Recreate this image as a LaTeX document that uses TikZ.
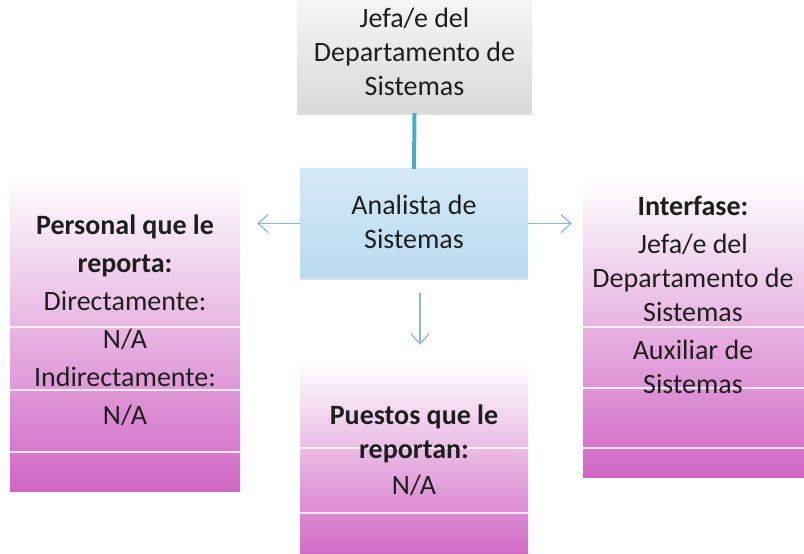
\documentclass[tikz,border=0pt]{standalone}
\usepackage{fontspec}
\setmainfont{Carlito}
\usepackage{xcolor}
\definecolor{GrayTop}{HTML}{F6F6F6}
\definecolor{GrayBot}{HTML}{D9D9D9}
\definecolor{BlueTop}{HTML}{D4E9F7}
\definecolor{BlueBot}{HTML}{BADAF1}
\definecolor{Teal}{HTML}{4BACC6}
\definecolor{ArrBlue}{HTML}{8EB4E3}
\definecolor{PinkMid}{HTML}{E6A0DC}
\definecolor{PinkDeep}{HTML}{D066C4}
\definecolor{TextGray}{HTML}{1E1E1E}
\usepackage{tikz}
\usetikzlibrary{arrows.meta, positioning, shadows}
\tikzset{
  box/.style={
    rectangle, minimum width=#1, inner sep=0pt,
    drop shadow={shadow xshift=0pt, shadow yshift=-2pt, opacity=0.25}
  },
  box/.default=228pt,
  column/.style={
    rectangle, minimum width=#1, inner sep=0pt,
    top color=white, middle color=PinkMid, bottom color=PinkDeep
  },
  column/.default=230pt,
  txt/.style={align=center, inner sep=0pt, text=TextGray,
    font=\fontsize{28}{34}\selectfont},
  sep/.style={draw=white, line width=1.2pt, opacity=0.8},
  arr/.style={-{Straight Barb[length=10pt, width=18pt]}, line width=1.2pt, color=ArrBlue},
  link/.style={line width=4pt, color=Teal},
}

\begin{document}
\begin{tikzpicture}[x=1pt, y=1pt]
\useasboundingbox (0,0) rectangle (804,554);

% Top position
\node[box=235pt, minimum height=117pt, top color=GrayTop, bottom color=GrayBot] at (414.5,499.5) (jefe) {};
\node[txt] at (414.5,502) (jefeTxt) {Jefa/e del\\Departamento de\\Sistemas};

% Position described
\node[box=228pt, minimum height=109pt, top color=BlueTop, bottom color=BlueBot] at (414,330.5) (analista) {};
\node[txt] at (414,332.5) (analistaTxt) {Analista de\\Sistemas};

% Columns
\node[column=230pt, minimum height=317pt] at (125,220.5) (personal) {};
\node[column=227pt, minimum height=300pt] at (696.5,226) (interfase) {};
\node[column=228pt, minimum height=200pt] at (414,94) (puestos) {};

% Separators
\draw[sep] (personal.west |- 0,227) -- (personal.east |- 0,227);
\draw[sep] (personal.west |- 0,164) -- (personal.east |- 0,164);
\draw[sep] (personal.west |- 0,102) -- (personal.east |- 0,102);
\draw[sep] (interfase.west |- 0,227) -- (interfase.east |- 0,227);
\draw[sep] (interfase.west |- 0,166) -- (interfase.east |- 0,166);
\draw[sep] (interfase.west |- 0,106) -- (interfase.east |- 0,106);
\draw[sep] (puestos.west |- 0,106) -- (puestos.east |- 0,106);
\draw[sep] (puestos.west |- 0,41) -- (puestos.east |- 0,41);

% Column texts
\node[txt] at (125,234) (personalTxt) {\textbf{Personal que le}\\[4pt]\textbf{reporta:}\\[4pt]
  Directamente:\\[4pt]N/A\\[4pt]Indirectamente:\\[4pt]N/A};
\node[txt] at (693,259) (interfaseTxt) {\textbf{Interfase:}\\[4pt]Jefa/e del\\Departamento de\\Sistemas\\[4pt]
  Auxiliar de\\Sistemas};
\node[txt] at (414,104) (puestosTxt) {\textbf{Puestos que le}\\\textbf{reportan:}\\[2pt]N/A};

% Connectors
\draw[link] (jefe.south) -- (analista.north);
\draw[arr, shorten >=17pt] (analista.west) -- (analista.west -| personal.east);
\draw[arr, shorten >=11pt] (analista.east) -- (analista.east -| interfase.west);
\draw[arr, shorten <=15pt, shorten >=15pt] (analista.south -| 420,0) -- (puestos.north -| 420,0);

\end{tikzpicture}
\end{document}
